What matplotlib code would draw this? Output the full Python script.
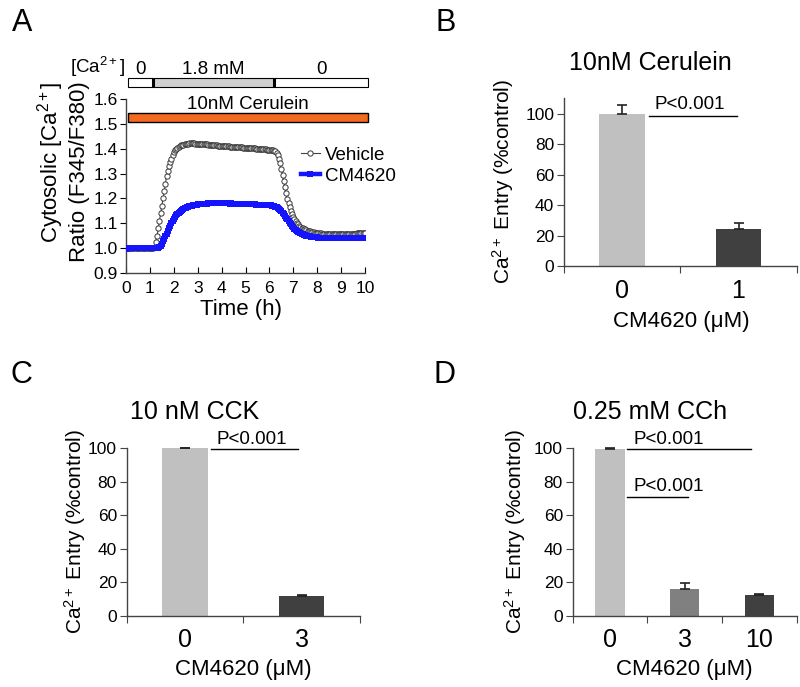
import numpy as np
import matplotlib
matplotlib.use('Agg')
import matplotlib.pyplot as plt
from matplotlib.patches import Rectangle

plt.rcParams['font.family'] = ['Liberation Sans', 'DejaVu Sans']
plt.rcParams['mathtext.fontset'] = 'custom'
plt.rcParams['mathtext.rm'] = 'Liberation Sans'
plt.rcParams['mathtext.it'] = 'Liberation Sans:italic'
plt.rcParams['mathtext.bf'] = 'Liberation Sans:bold'
plt.rcParams['axes.linewidth'] = 1.0

# ---------------------------------------------------------------------------
# Data (time course sampled every 0.05 h)
# ---------------------------------------------------------------------------
time_h = np.linspace(0, 10, 201)

vehicle = [
    # 0.00 - 1.20
    1.000, 1.001, 0.999, 1.000, 1.001, 1.000, 1.000, 0.999, 1.000, 1.001, 1.000, 1.001, 1.000,
    1.000, 0.999, 1.000, 1.001, 1.000, 1.000, 1.001, 1.000, 0.999, 1.000, 1.001, 1.003,
    # 1.25 - 2.60
    1.025, 1.05, 1.08, 1.11, 1.14, 1.17, 1.20, 1.23, 1.26, 1.29, 1.31, 1.33, 1.345, 1.36,
    1.373, 1.385, 1.393, 1.400, 1.404, 1.408, 1.411, 1.413, 1.415, 1.416, 1.417, 1.418, 1.419, 1.420,
    # 2.65 - 3.00
    1.421, 1.421, 1.421, 1.421, 1.421, 1.420, 1.420, 1.420,
    # 3.05 - 6.10
    1.420, 1.419, 1.419, 1.419, 1.418, 1.418, 1.417, 1.417, 1.416, 1.416, 1.415, 1.415, 1.414,
    1.414, 1.413, 1.413, 1.412, 1.412, 1.411, 1.411, 1.411, 1.410, 1.410, 1.410, 1.409, 1.409,
    1.408, 1.408, 1.408, 1.407, 1.407, 1.407, 1.406, 1.406, 1.405, 1.405, 1.405, 1.404, 1.404,
    1.404, 1.403, 1.403, 1.403, 1.402, 1.402, 1.402, 1.401, 1.401, 1.400, 1.400, 1.400, 1.399,
    1.399, 1.398, 1.398, 1.397, 1.397, 1.396, 1.396, 1.395, 1.395, 1.394,
    # 6.15 - 8.00
    1.393, 1.392, 1.389, 1.384, 1.375, 1.36, 1.342, 1.32, 1.295, 1.27, 1.245, 1.22, 1.198, 1.18,
    1.164, 1.15, 1.137, 1.125, 1.116, 1.108, 1.102, 1.096, 1.091, 1.087, 1.083, 1.080, 1.077,
    1.075, 1.072, 1.070, 1.068, 1.067, 1.065, 1.064, 1.063, 1.062, 1.061, 1.060,
    # 8.05 - 10.00
    1.060, 1.059, 1.059, 1.058, 1.058, 1.057, 1.057, 1.057, 1.056, 1.056, 1.056, 1.056, 1.055,
    1.055, 1.055, 1.055, 1.055, 1.055, 1.055, 1.055, 1.055, 1.055, 1.056, 1.056, 1.056, 1.056,
    1.057, 1.057, 1.057, 1.057, 1.058, 1.058, 1.059, 1.059, 1.060, 1.060, 1.061, 1.061, 1.062, 1.062]

cm4620 = [
    # 0.00 - 1.30
    0.999, 0.998, 1.000, 1.001, 0.999, 1.000, 1.000, 1.001, 1.000, 0.999, 1.000, 1.001, 1.000,
    0.999, 1.000, 1.000, 1.001, 1.000, 0.999, 1.000, 1.001, 1.000, 1.000, 0.999, 1.000, 1.000, 1.001,
    # 1.35 - 3.00
    1.002, 1.005, 1.010, 1.018, 1.028, 1.038, 1.048, 1.058, 1.069, 1.080, 1.090, 1.100, 1.109,
    1.118, 1.125, 1.132, 1.138, 1.143, 1.147, 1.151, 1.154, 1.157, 1.160, 1.162, 1.164, 1.166,
    1.168, 1.169, 1.171, 1.172, 1.173, 1.174, 1.175, 1.176,
    # 3.05 - 6.00
    1.177, 1.177, 1.178, 1.178, 1.178, 1.179, 1.179, 1.179, 1.180, 1.180,
    1.180, 1.180, 1.181, 1.180, 1.181, 1.180, 1.180, 1.181, 1.180, 1.180,
    1.180, 1.181, 1.180, 1.180, 1.180, 1.180, 1.179, 1.180, 1.179, 1.179,
    1.179, 1.179, 1.179, 1.178, 1.178, 1.178, 1.178, 1.178, 1.177, 1.177,
    1.177, 1.177, 1.177, 1.176, 1.176, 1.176, 1.176, 1.176, 1.175, 1.175,
    1.175, 1.175, 1.175, 1.174, 1.174, 1.174, 1.174, 1.173, 1.173, 1.173,
    # 6.05 - 8.00
    1.172, 1.171, 1.170, 1.169, 1.167, 1.165, 1.162, 1.158, 1.154, 1.149, 1.143, 1.137, 1.130,
    1.123, 1.116, 1.109, 1.102, 1.096, 1.090, 1.084, 1.079, 1.074, 1.070, 1.066, 1.063, 1.060,
    1.058, 1.056, 1.054, 1.052, 1.050, 1.049, 1.048, 1.047, 1.046, 1.045, 1.044, 1.044, 1.043, 1.043,
    # 8.05 - 10.00
    1.042, 1.042, 1.042, 1.041, 1.041, 1.041, 1.041, 1.041, 1.040, 1.040,
    1.040, 1.040, 1.040, 1.040, 1.040, 1.040, 1.040, 1.040, 1.040, 1.040,
    1.040, 1.041, 1.041, 1.041, 1.041, 1.041, 1.041, 1.041, 1.041, 1.041,
    1.041, 1.041, 1.040, 1.040, 1.040, 1.040, 1.040, 1.040, 1.040, 1.040]

# Ca2+ bath protocol (h)
ca_edges = [0.08, 1.13, 6.19, 10.13]
ca_labels = ['0', '1.8 mM', '0']
ca_colors = ['white', '#d0d0d0', 'white']

# bar panels
b_labels = ['0', '1']
b_vals = [100, 24.5]
b_errs = [5.4, 3.5]

c_labels = ['0', '3']
c_vals = [100, 11.6]
c_errs = [0.3, 0.7]

d_labels = ['0', '3', '10']
d_vals = [99.6, 15.8, 12.2]
d_errs = [0.5, 3.6, 0.5]

light, mid, dark = '#c0c0c0', '#808080', '#404040'

W, H = 800, 687
fig = plt.figure(figsize=(W / 100, H / 100), dpi=100)


def px(x, y):
    return x / W, 1 - y / H


def rect(l, t, r, b):
    return [l / W, 1 - b / H, (r - l) / W, (b - t) / H]


# ---------------------------------------------------------------------------
# A - time course
# ---------------------------------------------------------------------------
ax = fig.add_axes(rect(126, 99, 365, 273))
ax.plot(time_h, vehicle, color='#444444', lw=0.8, marker='o', markersize=3.8,
        markerfacecolor='white', markeredgecolor='#363636', markeredgewidth=0.7,
        label='Vehicle', zorder=3)
ax.plot(time_h, cm4620, color='#1414ff', lw=3.2, marker='s', markersize=3.8,
        markeredgewidth=0, label='CM4620', zorder=4)
ax.set_xlim(0, 10)
ax.set_ylim(0.9, 1.6)
ax.set_xticks(range(0, 11))
ax.set_yticks(np.round(np.arange(0.9, 1.65, 0.1), 1))
ax.set_yticklabels(['%.1f' % v for v in np.arange(0.9, 1.65, 0.1)])
ax.tick_params(axis='x', direction='in', length=4, pad=6, labelsize=12.5)
ax.tick_params(axis='y', direction='out', length=4, pad=2, labelsize=12.5)
for s in ['top', 'right']:
    ax.spines[s].set_visible(False)
for s in ['left', 'bottom']:
    ax.spines[s].set_color('#444444')

# orange cerulein bar
ax.add_patch(Rectangle((0.07, 1.508), 10.06, 0.036, facecolor='#f46a1e',
                       edgecolor='black', lw=1, clip_on=False, zorder=5))
ax.text(5.1, 1.578, '10nM Cerulein', ha='center', va='center', fontsize=13.5)

# Ca2+ protocol bar
for i in range(3):
    ax.add_patch(Rectangle((ca_edges[i], 1.649), ca_edges[i + 1] - ca_edges[i], 0.036,
                           facecolor=ca_colors[i], edgecolor='black', lw=0.8, clip_on=False))
    ax.text((ca_edges[i] + ca_edges[i + 1]) / 2, 1.686, ca_labels[i], ha='center',
            va='bottom', fontsize=13.5)
for e in ca_edges[1:3]:
    ax.plot([e, e], [1.649, 1.685], color='black', lw=2.2, clip_on=False, solid_capstyle='butt')
ax.text(-0.05, 1.681, '[Ca$^{2+}$]', ha='right', va='bottom', fontsize=13.5)

leg = ax.legend(loc='upper left', bbox_to_anchor=(0.70, 0.77), frameon=False, fontsize=13.5,
                handlelength=1.0, handletextpad=0.3, labelspacing=0.2, numpoints=1,
                borderaxespad=0)

fig.text(*px(241, 309), 'Time (h)', ha='center', va='center', fontsize=16)
fig.text(*px(51, 162), 'Cytosolic [Ca$^{2+}$]', ha='center', va='center', rotation=90, fontsize=16)
fig.text(*px(79, 172), 'Ratio (F345/F380)', ha='center', va='center', rotation=90, fontsize=16)


# ---------------------------------------------------------------------------
# bar panels
# ---------------------------------------------------------------------------
def bar_panel(r, labels, vals, errs, colors, ytop):
    a = fig.add_axes(r)
    n = len(vals)
    x = np.arange(n) + 0.5
    a.bar(x, vals, width=0.39, color=colors, zorder=2)
    a.errorbar(x, vals, yerr=[np.zeros(n), errs], fmt='none', ecolor='#222222',
               elinewidth=1.2, capsize=3.5, capthick=1.2, zorder=3, clip_on=False)
    a.set_xlim(0, n)
    a.set_ylim(0, ytop)
    for s in ['top', 'right']:
        a.spines[s].set_visible(False)
    for s in ['left', 'bottom']:
        a.spines[s].set_color('#444444')
    a.set_xticks(np.arange(n + 1))
    a.set_xticklabels([])
    a.set_xticks(x, minor=True)
    a.set_xticklabels(labels, minor=True, fontsize=18)
    a.tick_params(axis='x', which='minor', length=0, pad=9)
    a.tick_params(axis='x', which='major', direction='out', length=5, color='#444444')
    a.set_yticks(range(0, 101, 20))
    a.tick_params(axis='y', direction='out', length=5, pad=2, labelsize=12.5, color='#444444')
    return a


def pbar(a, x0, x1, y, tx, ty):
    a.plot([x0, x1], [y, y], color='black', lw=1, clip_on=False)
    a.text(tx, ty, 'P<0.001', ha='center', va='center', fontsize=13.5)


# B
axb = bar_panel(rect(564, 98.3, 796.7, 266), b_labels, b_vals, b_errs, [light, dark], 110)
pbar(axb, 0.73, 1.49, 98.4, 1.083, 105.8)
fig.text(*px(650, 63), '10nM Cerulein', ha='center', va='center', fontsize=18)
fig.text(*px(503, 181.5), 'Ca$^{2+}$ Entry (%control)', ha='center', va='center', rotation=90, fontsize=15)
fig.text(*px(681, 322), 'CM4620 (\u03bcM)', ha='center', va='center', fontsize=16)

# C
axc = bar_panel(rect(126.7, 448.3, 360, 615.7), c_labels, c_vals, c_errs, [light, dark], 100)
pbar(axc, 0.723, 1.466, 99.8, 1.074, 105)
fig.text(*px(195, 411.7), '10 nM CCK', ha='center', va='center', fontsize=18)
fig.text(*px(75, 531), 'Ca$^{2+}$ Entry (%control)', ha='center', va='center', rotation=90, fontsize=15)
fig.text(*px(243, 669), 'CM4620 (\u03bcM)', ha='center', va='center', fontsize=16)

# D
axd = bar_panel(rect(572.7, 448.3, 796.7, 615.7), d_labels, d_vals, d_errs, [light, mid, dark], 100)
pbar(axd, 0.723, 2.384, 99.4, 1.28, 105.4)
pbar(axd, 0.723, 1.548, 71.1, 1.28, 77)
fig.text(*px(650, 411.7), '0.25 mM CCh', ha='center', va='center', fontsize=18)
fig.text(*px(515, 531), 'Ca$^{2+}$ Entry (%control)', ha='center', va='center', rotation=90, fontsize=15)
fig.text(*px(684, 669), 'CM4620 (\u03bcM)', ha='center', va='center', fontsize=16)

# panel letters
for letter, (lx, ly) in zip('ABCD', [(22, 23), (446, 23), (21, 375), (444, 375)]):
    fig.text(*px(lx, ly), letter, ha='center', va='center', fontsize=22)

fig.savefig('out.png', dpi=100)
